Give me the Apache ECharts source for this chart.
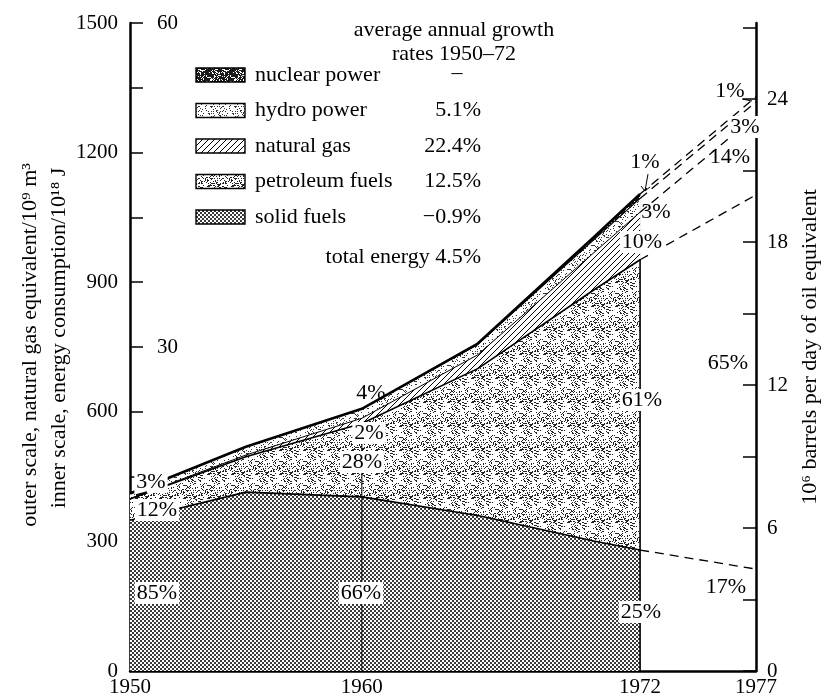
<!DOCTYPE html>
<html>
<head>
<meta charset="utf-8">
<script src="https://cdn.jsdelivr.net/npm/echarts@6.0.0/dist/echarts.min.js"></script>
<style>
  body { margin: 0; background: #fff; }
  #main { width: 835px; height: 700px; }
</style>
</head>
<body>
<div id="main"></div>
<script>
// world energy consumption, stacked by source (outer scale, 10^9 m3 natural gas equivalent)
var years = [1950, 1955, 1960, 1965, 1970, 1972];
var solidFuels = [349, 414, 403, 360, 301, 280];
var petroleumFuels = [49, 82, 170, 340, 581, 672];
var naturalGas = [1, 4, 12, 32, 86, 110];
var hydroPower = [12, 19, 22, 24, 30, 32];
var nuclearPower = [0, 0, 0, 2, 6, 10];

// 1977 outlook, same order: solid, petroleum, gas, hydro, nuclear
var outlookYears = [1972, 1977];
var outlook1977 = [236, 866, 183, 32, 12];

var sourceNames = ['solid fuels', 'petroleum fuels', 'natural gas', 'hydro power', 'nuclear power'];
var growthRates = ['\u22120.9%', '12.5%', '22.4%', '5.1%', '\u2013'];

// tick labels
var yearLabels = [1950, 1960, 1972, 1977];
var outerTicks = [0, 150, 300, 450, 600, 750, 900, 1050, 1200, 1350, 1500];
var outerLabels = [0, 300, 600, 900, 1200, 1500];
var innerLabels = [30, 60];
var barrelTicks = [0, 3, 6, 9, 12, 15, 18, 21, 24, 27];
var barrelLabels = [0, 6, 12, 18, 24];

var FONT = '"Liberation Serif", "DejaVu Serif", serif';
var font = function (s) { return s + 'px ' + FONT; };
var plain = function (v) { return String(v); };

// ---- fill textures ----
function tile(w, h, paint) {
  var c = document.createElement('canvas');
  c.width = w; c.height = h;
  var g = c.getContext('2d');
  g.fillStyle = '#fff';
  g.fillRect(0, 0, w, h);
  paint(g, w, h);
  return { image: c, repeat: 'repeat' };
}
// grainy stipple: a pixel is inked when its hash falls under the density
function stipple(g, w, h, color, density) {
  g.fillStyle = color;
  for (var y = 0; y < h; y++) for (var x = 0; x < w; x++) {
    var n = Math.imul(x + 1, 374761393) ^ Math.imul(y + 1, 668265263);
    n = Math.imul(n ^ (n >>> 13), 1274126177);
    if (((n ^ (n >>> 16)) >>> 0) % 1000 < density * 1000) g.fillRect(x, y, 1, 1);
  }
}
var solidPattern = tile(4, 4, function (g) {
  g.fillStyle = '#3a3a3a';
  g.fillRect(0, 0, 2, 2);
  g.fillRect(2, 2, 2, 2);
});
var petroleumPattern = tile(24, 24, function (g, w, h) { stipple(g, w, h, '#222', 0.25); });
var gasPattern = tile(6, 6, function (g) {
  g.strokeStyle = '#000';
  g.lineWidth = 1;
  g.beginPath();
  g.moveTo(-1, 7); g.lineTo(7, -1);
  g.moveTo(-1, 1); g.lineTo(1, -1);
  g.moveTo(5, 7); g.lineTo(7, 5);
  g.stroke();
});
var hydroPattern = tile(24, 24, function (g, w, h) { stipple(g, w, h, '#333', 0.16); });
var nuclearPattern = tile(24, 24, function (g, w, h) {
  g.fillStyle = '#1a1a1a';
  g.fillRect(0, 0, w, h);
  stipple(g, w, h, '#fff', 0.3);
});

var layerValues = [solidFuels, petroleumFuels, naturalGas, hydroPower, nuclearPower];
var layerFills = [solidPattern, petroleumPattern, gasPattern, hydroPattern, nuclearPattern];
var edgeWidths = [1.6, 1.6, 1, 1.2, 2.6];

// cumulative tops of each layer (own stacking: value x-axis)
var tops = [];
var run = years.map(function () { return 0; });
var tops77 = [];
var run77 = 0;
layerValues.forEach(function (vals, k) {
  run = run.map(function (v, i) { return v + vals[i]; });
  run77 += outlook1977[k];
  tops.push(run.slice());
  tops77.push(run77);
});

var series = [];

// filled areas: highest layer first, lower layers painted over it
for (var k = layerValues.length - 1; k >= 0; k--) {
  series.push({
    name: sourceNames[k],
    type: 'line',
    symbol: 'none',
    silent: true,
    z: 2,
    data: years.map(function (y, i) { return [y, tops[k][i]]; }),
    lineStyle: { width: 0 },
    areaStyle: { color: layerFills[k], opacity: 1, origin: 'start' }
  });
}

// black edges + dashed outlook to 1977
tops.forEach(function (top, k) {
  series.push({
    type: 'line',
    symbol: 'none',
    silent: true,
    z: 3,
    data: years.map(function (y, i) { return [y, top[i]]; }),
    lineStyle: { color: '#000', width: edgeWidths[k] }
  });
  series.push({
    type: 'line',
    symbol: 'none',
    silent: true,
    z: 3,
    data: [[outlookYears[0], top[top.length - 1]], [outlookYears[1], tops77[k]]],
    lineStyle: { color: '#000', width: 1.3, type: [9, 6] }
  });
});

// vertical guides at 1960 and 1972 (up to top of petroleum)
[2, 5].forEach(function (i) {
  series.push({
    type: 'line',
    symbol: 'none',
    silent: true,
    z: 3,
    data: [[years[i], 0], [years[i], tops[1][i]]],
    lineStyle: { color: '#000', width: i === 5 ? 1.6 : 1 }
  });
});

// ---- annotations ----
var graphics = [];
function txt(x, y, s, opt) {
  opt = opt || {};
  var style = {
    text: s, font: font(opt.size || 22), fill: '#000',
    align: opt.align || 'center', textAlign: opt.align || 'center',
    verticalAlign: 'middle', textVerticalAlign: 'middle'
  };
  if (opt.bg) { style.backgroundColor = '#fff'; style.padding = [0, 2]; }
  graphics.push({ type: 'text', x: x, y: y, rotation: opt.rot || 0, z: 10, style: style });
}

// axis titles
txt(30, 345, 'outer scale, natural gas equivalent/10\u2079 m\u00b3', { rot: Math.PI / 2 });
txt(59, 338, 'inner scale, energy consumption/10\u00b9\u2078 J', { rot: Math.PI / 2 });

// legend block
txt(454, 30, 'average annual growth');
txt(454, 54, 'rates 1950\u201372');
for (var r = 0; r < 5; r++) {
  var k2 = 4 - r;
  var cy = 75 + r * 35.5;
  graphics.push({
    type: 'rect', z: 10,
    shape: { x: 196, y: cy - 7, width: 49, height: 14 },
    style: { fill: layerFills[k2], stroke: '#000', lineWidth: 1.4 }
  });
  txt(255, cy, sourceNames[k2], { align: 'left' });
  if (k2 === 4) txt(457, cy - 2, growthRates[k2]);
  else txt(481, cy, growthRates[k2], { align: 'right' });
}
txt(481, 257, 'total energy 4.5%', { align: 'right' });

// share labels
txt(151, 482, '3%', { bg: true });
txt(157, 510, '12%', { bg: true });
txt(157, 593, '85%', { bg: true });
txt(371, 393, '4%');
txt(369, 433, '2%', { bg: true });
txt(362, 462, '28%', { bg: true });
txt(361, 593, '66%', { bg: true });
txt(645, 162, '1%');
txt(656, 212, '3%');
txt(642, 242, '10%', { bg: true });
txt(642, 400, '61%', { bg: true });
txt(641, 612, '25%', { bg: true });
txt(730, 91, '1%');
txt(745, 127, '3%', { bg: true });
txt(730, 157, '14%');
txt(728, 363, '65%');
txt(726, 587, '17%');

// small leader arrows
graphics.push({ type: 'polyline', z: 11, shape: { points: [[648, 174], [645, 191]] }, style: { stroke: '#000', lineWidth: 1 } });
graphics.push({ type: 'polyline', z: 11, shape: { points: [[641, 186], [645, 191], [650, 187]] }, style: { stroke: '#000', lineWidth: 1, fill: null } });
graphics.push({ type: 'polyline', z: 11, shape: { points: [[742, 99], [752, 101]] }, style: { stroke: '#000', lineWidth: 1 } });
graphics.push({ type: 'polyline', z: 11, shape: { points: [[136, 495], [147, 492]] }, style: { stroke: '#000', lineWidth: 1.5 } });

var chart = echarts.init(document.getElementById('main'));
chart.setOption({
  animation: false,
  backgroundColor: '#fff',
  grid: { left: 130, right: 79, top: 23, bottom: 29, containLabel: false },
  xAxis: {
    type: 'value', min: 1950, max: 1977,
    axisLine: { lineStyle: { color: '#000', width: 2.5 } },
    axisTick: { show: false },
    splitLine: { show: false },
    axisLabel: { customValues: yearLabels, formatter: plain, color: '#000', fontFamily: FONT, fontSize: 21, margin: 6 }
  },
  yAxis: [
    {
      type: 'value', min: 0, max: 1500, position: 'left',
      axisLine: { show: true, lineStyle: { color: '#000', width: 2.5 } },
      axisTick: { show: true, inside: true, length: 13, customValues: outerTicks, lineStyle: { color: '#000', width: 1.5 } },
      splitLine: { show: false },
      axisLabel: { customValues: outerLabels, formatter: plain, color: '#000', fontFamily: FONT, fontSize: 21, margin: 12 }
    },
    {
      type: 'value', min: 0, max: 60, position: 'left',
      axisLine: { show: false },
      axisTick: { show: false },
      splitLine: { show: false },
      axisLabel: { inside: true, customValues: innerLabels, formatter: plain, color: '#000', fontFamily: FONT, fontSize: 21, margin: 27 }
    },
    {
      type: 'value', min: 0, max: 27.2, position: 'right',
      name: '10\u2076 barrels per day of oil equivalent',
      nameLocation: 'middle', nameRotate: 90, nameGap: 24,
      nameTextStyle: { color: '#000', fontFamily: FONT, fontSize: 22 },
      axisLine: { show: true, lineStyle: { color: '#000', width: 2.5 } },
      axisTick: { show: true, inside: true, length: 13, customValues: barrelTicks, lineStyle: { color: '#000', width: 1.5 } },
      splitLine: { show: false },
      axisLabel: { customValues: barrelLabels, formatter: plain, color: '#000', fontFamily: FONT, fontSize: 21, margin: 11 }
    }
  ],
  series: series,
  graphic: { elements: graphics }
});
</script>
</body>
</html>
